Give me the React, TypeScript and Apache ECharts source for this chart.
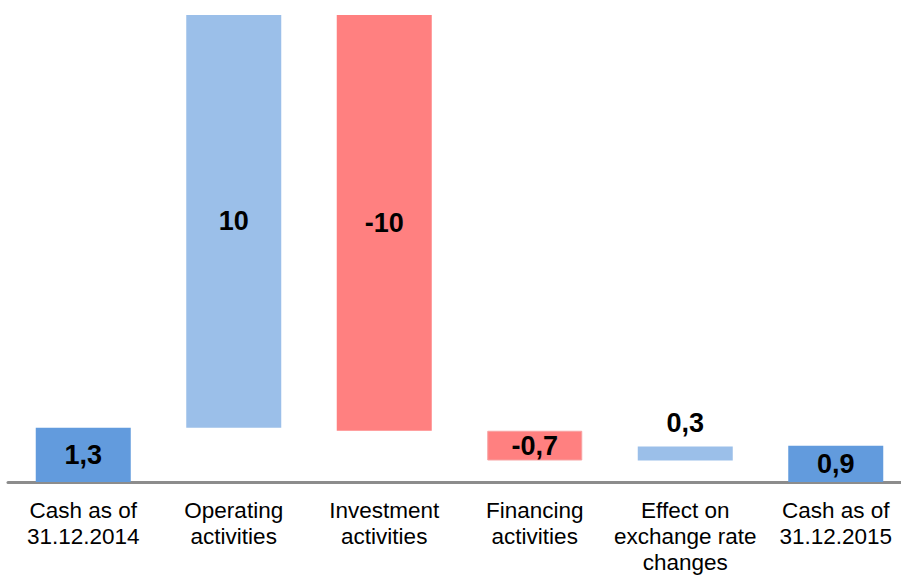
import React, { useEffect, useRef } from "react";
import * as echarts from "echarts";

const categories = [
  "Cash as of\n31.12.2014",
  "Operating\nactivities",
  "Investment\nactivities",
  "Financing\nactivities",
  "Effect on\nexchange rate\nchanges",
  "Cash as of\n31.12.2015",
];
// movements (start, changes..., end)
const values = [1.31, 9.99, -10.06, -0.72, 0.34, 0.88];
const labels = ["1,3", "10", "-10", "-0,7", "0,3", "0,9"];
const kinds = ["total", "change", "change", "change", "change", "total"];

const COLOR_TOTAL = "#629BDD";
const COLOR_POS = "#9BBFE9";
const COLOR_NEG = "#FF8080";

export default function App() {
  const ref = useRef<HTMLDivElement>(null);
  useEffect(() => {
    if (!ref.current) return;
    const chart = echarts.init(ref.current, null, { renderer: "svg" });
    const bases: number[] = [];
    const heights: number[] = [];
    let cum = 0;
    values.forEach((v, i) => {
      if (kinds[i] === "total") {
        bases.push(0);
        heights.push(v);
        cum = v;
      } else if (v >= 0) {
        bases.push(cum);
        heights.push(v);
        cum += v;
      } else {
        bases.push(cum + v);
        heights.push(-v);
        cum += v;
      }
    });
    const maxTop = Math.max(...bases.map((b, i) => b + heights[i]));
    const data = heights.map((h, i) => {
      const color = kinds[i] === "total" ? COLOR_TOTAL : values[i] >= 0 ? COLOR_POS : COLOR_NEG;
      const isSmallPos = kinds[i] === "change" && values[i] >= 0 && h < 0.5;
      return {
        value: h,
        itemStyle: {
          color,
          borderColor: i === 3 ? "#F7A3A3" : undefined,
          borderWidth: i === 3 ? 1 : 0,
        },
        label: {
          position: isSmallPos ? "top" : "inside",
          distance: 10,
        },
      };
    });
    chart.setOption({
      animation: false,
      grid: { left: 8, top: 15, width: 903, height: 468.5 },
      xAxis: {
        type: "category",
        data: categories,
        boundaryGap: true,
        axisLine: { show: true, lineStyle: { color: "#8C8C8C", width: 3 } },
        axisTick: { show: false },
        axisLabel: {
          interval: 0,
          margin: 15,
          color: "#000",
          fontSize: 22.5,
          lineHeight: 26,
          fontFamily: "Liberation Sans, Arial, sans-serif",
        },
      },
      yAxis: {
        type: "value",
        min: 0,
        max: maxTop,
        show: false,
        splitLine: { show: false },
      },
      series: [
        {
          type: "bar",
          stack: "wf",
          data: bases,
          barWidth: 95,
          itemStyle: { color: "transparent" },
          silent: true,
        },
        {
          type: "bar",
          stack: "wf",
          data,
          barWidth: 95,
          label: {
            show: true,
            color: "#000",
            fontSize: 27,
            fontWeight: "bold",
            fontFamily: "Liberation Sans, Arial, sans-serif",
            formatter: (p: any) => labels[p.dataIndex],
          },
        },
      ],
    });
    return () => chart.dispose();
  }, []);
  return (
    <div style={{ position: "fixed", left: 0, top: 0, width: 901, height: 575, overflow: "hidden", background: "#fff" }}>
      <div ref={ref} style={{ width: 925, height: 575 }} />
    </div>
  );
}
